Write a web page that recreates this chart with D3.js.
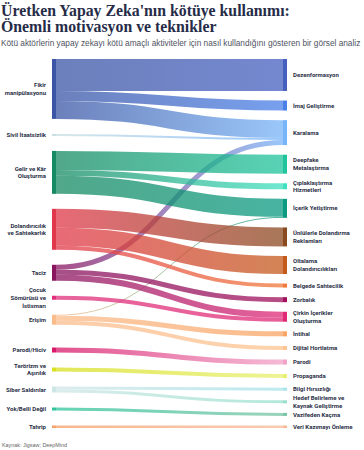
<!DOCTYPE html>
<html><head><meta charset="utf-8">
<script src="https://cdn.jsdelivr.net/npm/d3@7"></script>
<style>
html,body{margin:0;padding:0;background:#fff;}
svg{display:block;}
</style></head>
<body>
<svg id="chart" width="364" height="450"></svg>
<script>
// ---------- DATA ----------
const titleLines = ["Üretken Yapay Zeka'nın kötüye kullanımı:", "Önemli motivasyon ve teknikler"];
const subtitle = "Kötü aktörlerin yapay zekayı kötü amaçlı aktiviteler için nasıl kullandığını gösteren bir görsel analiz";
const sourceNote = "Kaynak: Jigsaw; DeepMind";

const leftNames = ["Fikir\nmanipülasyonu", "Sivil İtaatsizlik", "Gelir ve Kâr\nOluşturma", "Dolandırıcılık\nve Sahtekarlık",
  "Taciz", "Çocuk\nSömürüsü ve\nİstismarı", "Erişim", "Parodi/Hiciv", "Terörizm ve\nAşırılık", "Siber Saldırılar",
  "Yok/Belli Değil", "Tahrip"];
const leftColors = ["#3a55a5", "#c8dfe2", "#168a62", "#e0384a", "#8a1460", "#e0307c", "#fbbc8c", "#d8186a",
  "#d8e020", "#cfe6e7", "#30c49c", "#f8a068"];

const rightNames = ["Dezenformasyon", "İmaj Geliştirme", "Karalama", "Deepfake\nMetalaştırma", "Çıplaklaştırma\nHizmetleri",
  "İçerik Yetiştirme", "Ünlülerle Dolandırma\nReklamları", "Oltalama\nDolandırıcılıkları", "Belgede Sahtecilik", "Zorbalık",
  "Çirkin İçerikler\nOluşturma", "İntihal", "Dijital Hortlatma", "Parodi", "Propaganda", "Bilgi Hırsızlığı",
  "Hedef Belirleme ve\nKaynak Geliştirme", "Vazifeden Kaçma", "Veri Kazımayı Önleme"];
const rightColors = ["#4660c0", "#4a80e8", "#78b4f8", "#20c49c", "#40e0c0", "#0a9a82", "#8a4a20", "#c45a1c", "#f07838",
  "#a0105c", "#e02a78", "#f8a464", "#fcc490", "#f2a2c8", "#e8f070", "#a8e2ea", "#98e0cc", "#78c4a4", "#f8b898"];

// links: source (left name index), target (right name index), value
const linkSource = [0, 0, 0, 1, 4, 2, 2, 2, 6, 3, 3, 3, 4, 4, 5, 6, 6, 7, 8, 9, 9, 10, 11];
const linkTarget = [0, 1, 2, 2, 2, 3, 4, 5, 5, 6, 7, 8, 9, 10, 10, 11, 12, 13, 14, 15, 16, 17, 18];
const linkValue  = [32, 10, 18, 2, 5, 19, 6, 18, 1, 19, 18, 4, 5, 6, 4, 5, 4, 5, 4, 3, 3, 3, 2.5];

// ---------- LAYOUT (minimal sankey after d3-sankey, input order kept) ----------
const ext = {x0: 52, x1: 287, y0: 59, y1: 428};
const nodeWidth = 4, nodePadding = 9.6, leftPadding = 15, iterations = 32;

const nodes = [];
leftNames.forEach((n, i) => nodes.push({name: n, color: leftColors[i], layer: 0}));
rightNames.forEach((n, i) => nodes.push({name: n, color: rightColors[i], layer: 1}));
nodes.forEach((n, i) => { n.index = i; n.sourceLinks = []; n.targetLinks = []; });
const links = linkValue.map((v, i) => ({
  index: i, value: v,
  source: nodes[linkSource[i]],
  target: nodes[leftNames.length + linkTarget[i]]
}));
links.forEach(l => { l.source.sourceLinks.push(l); l.target.targetLinks.push(l); });
nodes.forEach(n => n.value = Math.max(d3.sum(n.sourceLinks, l => l.value), d3.sum(n.targetLinks, l => l.value)));
nodes.forEach(n => { n.x0 = n.layer === 0 ? ext.x0 : ext.x1 - nodeWidth; n.x1 = n.x0 + nodeWidth; });
const columns = [nodes.filter(n => n.layer === 0), nodes.filter(n => n.layer === 1)];
const colPad = [leftPadding, nodePadding];

const py = Math.min(nodePadding, (ext.y1 - ext.y0) / (d3.max(columns, c => c.length) - 1));
const ascBreadth = (a, b) => a.y0 - b.y0;
const ascSrc = (a, b) => ascBreadth(a.source, b.source) || a.index - b.index;
const ascTgt = (a, b) => ascBreadth(a.target, b.target) || a.index - b.index;
function reorderLinks(ns) { for (const n of ns) { n.sourceLinks.sort(ascTgt); n.targetLinks.sort(ascSrc); } }
function reorderNodeLinks(n) {
  for (const {source} of n.targetLinks) source.sourceLinks.sort(ascTgt);
  for (const {target} of n.sourceLinks) target.targetLinks.sort(ascSrc);
}
const ky = d3.min(columns, c => (ext.y1 - ext.y0 - (c.length - 1) * py) / d3.sum(c, n => n.value));
for (const col of columns) {
  let y = ext.y0;
  for (const n of col) {
    n.y0 = y; n.y1 = y + n.value * ky; y = n.y1 + py;
    for (const l of n.sourceLinks) l.width = l.value * ky;
  }
  y = (ext.y1 - y + py) / (col.length + 1);
  col.forEach((n, i) => { n.y0 += y * (i + 1); n.y1 += y * (i + 1); });
  reorderLinks(col);
}
function targetTop(source, target) {
  let y = source.y0 - (source.sourceLinks.length - 1) * py / 2;
  for (const {target: node, width} of source.sourceLinks) { if (node === target) break; y += width + py; }
  for (const {source: node, width} of target.targetLinks) { if (node === source) break; y -= width; }
  return y;
}
function sourceTop(source, target) {
  let y = target.y0 - (target.targetLinks.length - 1) * py / 2;
  for (const {source: node, width} of target.targetLinks) { if (node === source) break; y += width + py; }
  for (const {target: node, width} of source.sourceLinks) { if (node === target) break; y -= width; }
  return y;
}
function collTopBottom(ns, y, i, a, p) {
  for (; i < ns.length; ++i) { const n = ns[i]; const d = (y - n.y0) * a; if (d > 1e-6) { n.y0 += d; n.y1 += d; } y = n.y1 + p; }
}
function collBottomTop(ns, y, i, a, p) {
  for (; i >= 0; --i) { const n = ns[i]; const d = (n.y1 - y) * a; if (d > 1e-6) { n.y0 -= d; n.y1 -= d; } y = n.y0 - p; }
}
function resolveCollisions(ns, a, p) {
  const i = ns.length >> 1, s = ns[i];
  collBottomTop(ns, s.y0 - p, i - 1, a, p);
  collTopBottom(ns, s.y1 + p, i + 1, a, p);
  collBottomTop(ns, ext.y1, ns.length - 1, a, p);
  collTopBottom(ns, ext.y0, 0, a, p);
}
for (let it = 0; it < iterations; ++it) {
  const alpha = Math.pow(0.99, it), beta = Math.max(1 - alpha, (it + 1) / iterations);
  {
    const col = columns[0];
    for (const s of col) {
      let y = 0, w = 0;
      for (const {target, value} of s.sourceLinks) { y += sourceTop(s, target) * value; w += value; }
      if (!(w > 0)) continue;
      const d = (y / w - s.y0) * alpha; s.y0 += d; s.y1 += d; reorderNodeLinks(s);
    }
    resolveCollisions(col, beta, colPad[0]);
  }
  {
    const col = columns[1];
    for (const t of col) {
      let y = 0, w = 0;
      for (const {source, value} of t.targetLinks) { y += targetTop(source, t) * value; w += value; }
      if (!(w > 0)) continue;
      const d = (y / w - t.y0) * alpha; t.y0 += d; t.y1 += d; reorderNodeLinks(t);
    }
    resolveCollisions(col, beta, colPad[1]);
  }
}
for (const n of nodes) {
  let a = n.y0, b = n.y0;
  for (const l of n.sourceLinks) { l.y0 = a + l.width / 2; a += l.width; }
  for (const l of n.targetLinks) { l.y1 = b + l.width / 2; b += l.width; }
}

// ---------- DRAW ----------
const svg = d3.select("#chart");
const defs = svg.append("defs");

const title = svg.append("g");
titleLines.forEach((t, i) => {
  title.append("text").attr("x", 1).attr("y", 15.5 + i * 16)
    .attr("font-family", "'Liberation Serif', 'DejaVu Serif', serif")
    .attr("font-weight", 700).attr("font-size", 15.5).attr("fill", "#262c48").text(t);
});
{
  const w0 = title.select("text").node().getComputedTextLength();
  title.selectAll("text").attr("font-size", 15.5 * 289 / w0);
}
const sub = svg.append("text").attr("x", 1).attr("y", 46)
  .attr("font-family", "'Liberation Sans', Arial, sans-serif").attr("font-size", 7).attr("fill", "#50545f").text(subtitle);
{
  const w = sub.node().getComputedTextLength();
  sub.attr("font-size", 7 * 360 / w);
}

links.forEach((l, i) => {
  const g = defs.append("linearGradient").attr("id", "lg" + i)
    .attr("gradientUnits", "userSpaceOnUse")
    .attr("x1", l.source.x1).attr("x2", l.target.x0);
  g.append("stop").attr("offset", "0%").attr("stop-color", l.source.color);
  g.append("stop").attr("offset", "100%").attr("stop-color", l.target.color);
});
const linkPath = d3.linkHorizontal().source(l => [l.source.x1, l.y0]).target(l => [l.target.x0, l.y1]);
svg.append("g").attr("fill", "none").selectAll("path").data(links).join("path")
  .attr("d", linkPath)
  .attr("stroke", (l, i) => `url(#lg${i})`)
  .attr("stroke-opacity", 0.75)
  .attr("stroke-width", l => Math.max(1, l.width));

svg.append("g").selectAll("rect").data(nodes).join("rect")
  .attr("x", d => d.x0).attr("y", d => d.y0)
  .attr("width", d => d.x1 - d.x0).attr("height", d => Math.max(1, d.y1 - d.y0))
  .attr("fill", d => d.color);

const lh = 7.7;
const labelG = svg.append("g").attr("font-family", "Roboto, 'Liberation Sans', sans-serif")
  .attr("font-weight", 700).attr("font-size", 6).attr("fill", "#2b3048");
nodes.forEach(n => {
  const lines = n.name.split("\n");
  const cy = (n.y0 + n.y1) / 2;
  const lx = n.layer === 0 ? n.x0 - 6 : n.x1 + 6;
  const t = labelG.append("text").attr("text-anchor", n.layer === 0 ? "end" : "start");
  lines.forEach((s, i) => {
    t.append("tspan").attr("x", lx)
      .attr("y", cy + (i - (lines.length - 1) / 2) * lh)
      .attr("dy", "0.35em").text(s);
  });
});
{
  const ref = labelG.selectAll("text").filter(function () { return this.textContent === rightNames[0]; }).node();
  const w = ref.getComputedTextLength();
  labelG.attr("font-size", 6 * 46 / w);
}

svg.append("text").attr("x", 2).attr("y", 447)
  .attr("font-family", "'Liberation Sans', Arial, sans-serif").attr("font-size", 5.4).attr("fill", "#666").text(sourceNote);
</script>
</body></html>
